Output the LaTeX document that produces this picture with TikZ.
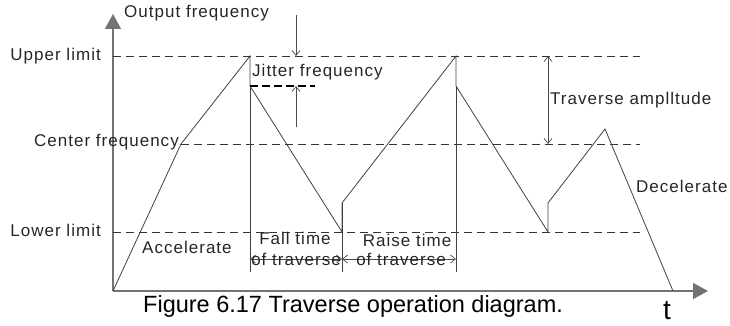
\documentclass[tikz,border=0pt]{standalone}
\usepackage{fontspec}
\setmainfont{Liberation Sans}
\newfontfamily\lblfont[LetterSpace=6]{Liberation Sans}
\usetikzlibrary{arrows.meta}
\begin{document}
\begin{tikzpicture}[x=1pt,y=-1pt,
  lbl/.style={font=\lblfont\fontsize{17}{19}\selectfont, inner sep=0pt, text=black!85},
  axisline/.style={draw=black!55, line width=1.4pt},
  guide/.style={draw=black!80, line width=0.7pt, dash pattern=on 8pt off 5pt},
  wave/.style={draw=black!75, line width=0.8pt},
  dim/.style={draw=black!70, line width=0.7pt, {Straight Barb[length=5pt,width=8pt]}-{Straight Barb[length=5pt,width=8pt]}},
  dimone/.style={draw=black!70, line width=0.7pt, -{Straight Barb[length=5pt,width=8pt]}},
  axarrow/.style={-{Triangle[length=15pt,width=16pt]}}
]
\useasboundingbox (0,0) rectangle (730,326);
% axes
\coordinate (O) at (113,291);
\coordinate (Ytop) at (113,14);
\coordinate (Xend) at (708,291);
\draw[axisline, axarrow] (O) -- (Ytop);
\draw[axisline, axarrow] (O) -- (Xend);
% guide lines
\coordinate (UL1) at (113,56); \coordinate (UL2) at (640,56);
\coordinate (CF1) at (181,144); \coordinate (CF2) at (640,144);
\coordinate (LL1) at (113,232); \coordinate (LL2) at (640,232);
\draw[guide] (UL1) -- (UL2);
\draw[guide] (CF1) -- (CF2);
\draw[guide] (LL1) -- (LL2);
% waveform
\coordinate (k1) at (181,144);
\coordinate (p1) at (250,56);
\coordinate (j1) at (250,86);
\coordinate (v1) at (342,232);
\coordinate (r1) at (342,203);
\coordinate (p2) at (456,56);
\coordinate (j2) at (456,86);
\coordinate (v2) at (548,232);
\coordinate (r2) at (548,203);
\coordinate (p3) at (605,129);
\coordinate (e) at (673,291);
\draw[wave] (O) -- (k1) -- (p1) -- (j1) -- (v1) -- (r1) -- (p2) -- (j2) -- (v2) -- (r2) -- (p3) -- (e);
% vertical markers
\coordinate (m1) at (250,272);
\coordinate (m2) at (342,272);
\coordinate (m3) at (456,272);
\draw[wave] (j1) -- (m1);
\draw[wave] (r1) -- (m2);
\draw[wave] (j2) -- (m3);
% jitter
\coordinate (jd) at (315,86);
\draw[draw=black, line width=1.8pt, dash pattern=on 8pt off 4pt] (j1) -- (jd);
\coordinate (ja1) at (296,15); \coordinate (ja2) at (296,56);
\coordinate (jb1) at (296,127); \coordinate (jb2) at (296,86);
\draw[dimone] (ja1) -- (ja2);
\draw[dimone] (jb1) -- (jb2);
% traverse amplitude
\coordinate (ta1) at (548,56); \coordinate (ta2) at (548,144);
\draw[dim] (ta1) -- (ta2);
% time arrows
\coordinate (f1) at (250,259); \coordinate (f2) at (342,259); \coordinate (f3) at (456,259);
\draw[dim] (f1) -- (f2);
\draw[dim] (f2) -- (f3);
% labels
\node[lbl, anchor=west] (outf) at (124,13) {Output frequency};
\node[lbl, anchor=east] (ulim) at (101,56) {Upper limit};
\node[lbl, anchor=east] (cfr) at (179,142) {Center frequency};
\node[lbl, anchor=east] (llim) at (101,230) {Lower limit};
\node[lbl, anchor=west] (jit) at (252,72) {Jitter frequency};
\node[lbl, anchor=west] (tamp) at (550,100) {Traverse amplltude};
\node[lbl, anchor=west] (acc) at (142,247) {Accelerate};
\node[lbl, anchor=west] (dec) at (636,186) {Decelerate};
\node[lbl] (ft1) at (295,238) {Fall time};
\node[lbl] (ft2) at (296,259) {of traverse};
\node[lbl] (rt1) at (407,240) {Raise time};
\node[lbl] (rt2) at (401,259) {of traverse};
\node[font=\fontsize{23.5}{26}\selectfont, inner sep=0pt, anchor=west] (cap) at (143,306) {Figure 6.17 Traverse operation diagram.};
\node[font=\fontsize{28}{30}\selectfont, inner sep=0pt, anchor=base] (tl) at (667,319) {t};
\end{tikzpicture}
\end{document}
